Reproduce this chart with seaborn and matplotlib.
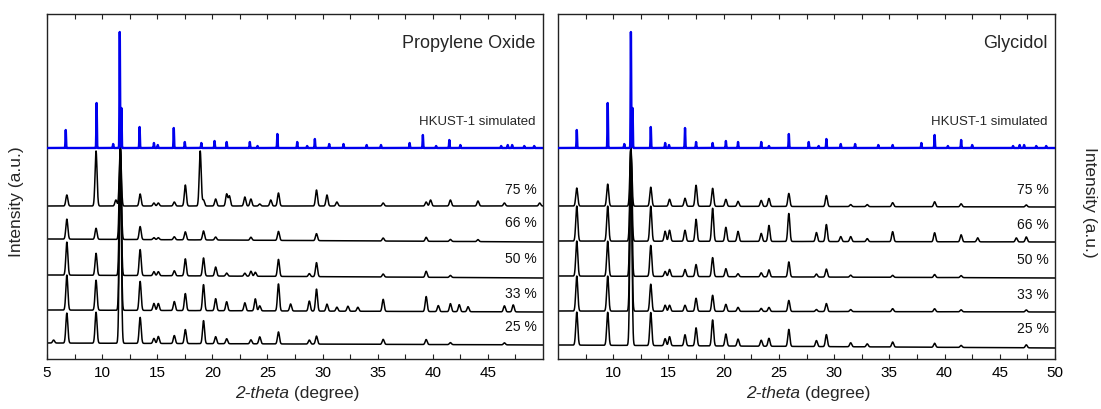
import numpy as np
import matplotlib
matplotlib.use("Agg")
import matplotlib.pyplot as plt
import seaborn as sns

# ---------------- data ----------------
x_range = (5, 50)

# simulated HKUST-1 stick pattern (peak position in deg, height in plot units)
sim_pos = [6.7, 9.5, 11.0, 11.6, 11.75, 13.4, 14.7, 15.05, 16.5, 17.5, 19.0, 20.2,
           21.3, 23.4, 24.1, 25.9, 27.7, 28.6, 29.3, 30.6, 31.9, 34.0, 35.3, 37.9,
           39.1, 40.3, 41.5, 42.5, 46.2, 46.8, 47.2, 48.3, 49.2]
sim_int = [18, 45, 4, 116, 40, 21, 5, 3, 20, 6, 5, 7,
           6, 6, 2, 14, 6, 2, 9, 4, 4, 3, 3, 5,
           13, 2, 8, 3, 2, 3, 3, 2, 2]
sim_base = 211

sample_labels = ["75 %", "66 %", "50 %", "33 %", "25 %"]

# Propylene Oxide panel
po_pos = [5.6, 6.8, 9.45, 11.25, 11.65, 13.45, 14.7, 15.1, 16.55, 17.55, 18.9, 19.2,
          20.3, 21.3, 21.55, 22.95, 23.5, 23.9, 24.3, 25.3, 26.0, 27.1, 28.8, 29.45,
          30.4, 31.3, 32.3, 33.2, 35.5, 39.4, 39.8, 40.5, 41.6, 42.4, 43.2, 44.1,
          46.5, 47.3, 49.7]
po_75 = [0, 11, 55, 6, 57, 12, 3, 3, 4, 21, 55, 6, 7, 12, 10, 9, 7, 0, 2, 6, 13, 0, 0, 16,
         11, 4, 0, 0, 3, 4, 6, 0, 6, 0, 0, 5, 3, 0, 3]
po_66 = [0, 20, 11, 0, 93, 13, 2, 2, 3, 8, 0, 9, 3, 0, 0, 0, 3, 0, 0, 0, 9, 0, 0, 7,
         0, 0, 0, 0, 3, 4, 0, 0, 2, 0, 0, 2, 0, 0, 0]
po_50 = [0, 33, 22, 0, 128, 26, 4, 4, 5, 17, 0, 18, 9, 3, 0, 3, 5, 4, 0, 0, 17, 0, 3, 14,
         0, 0, 0, 0, 3, 6, 0, 0, 2, 0, 0, 0, 0, 0, 0]
po_33 = [0, 35, 30, 0, 162, 29, 7, 7, 9, 17, 0, 26, 12, 9, 0, 8, 0, 12, 5, 0, 27, 7, 10, 22,
         7, 4, 5, 4, 12, 15, 0, 6, 8, 7, 5, 0, 6, 7, 0]
po_25 = [3, 30, 31, 0, 196, 26, 5, 7, 8, 14, 0, 23, 7, 5, 0, 0, 4, 0, 7, 0, 12, 0, 4, 8,
         0, 0, 0, 0, 5, 5, 0, 0, 2, 0, 0, 0, 2, 0, 0]
po_base_start = [153, 120, 84, 49, 16]
po_base_end = [153, 117, 81, 47, 14]

# Glycidol panel
gl_pos = [6.7, 9.5, 11.6, 13.4, 14.7, 15.1, 16.5, 17.5, 19.0, 20.2, 21.3, 23.4, 24.1,
          25.9, 28.4, 29.3, 30.6, 31.5, 33.0, 35.3, 39.1, 41.5, 43.0, 46.5, 47.4]
gl_75 = [18, 22, 58, 19, 0, 7, 8, 21, 18, 7, 5, 6, 8, 13, 0, 11, 0, 2, 2, 4, 5, 3, 0, 0, 2]
gl_66 = [35, 35, 93, 35, 10, 11, 11, 22, 33, 14, 10, 8, 16, 28, 9, 17, 5, 5, 3, 10, 9, 7, 4, 4, 5]
gl_50 = [35, 35, 128, 31, 5, 7, 7, 12, 19, 8, 3, 4, 7, 15, 3, 8, 0, 2, 0, 2, 3, 2, 0, 0, 0]
gl_33 = [35, 35, 163, 27, 6, 6, 6, 13, 16, 7, 4, 3, 4, 11, 2, 8, 0, 2, 0, 3, 3, 2, 0, 0, 2]
gl_25 = [33, 33, 198, 33, 7, 9, 11, 18, 26, 12, 7, 6, 8, 17, 6, 12, 0, 4, 3, 5, 4, 2, 0, 0, 3]
gl_base_start = [153, 118, 83, 48, 14]
gl_base_end = [152, 117, 81, 47, 11]

x_ticks_left = [5, 10, 15, 20, 25, 30, 35, 40, 45]
x_ticks_right = [10, 15, 20, 25, 30, 35, 40, 45, 50]

# ---------------- style ----------------
sns.set_style("ticks")
plt.rcParams["font.family"] = ["Liberation Sans", "DejaVu Sans"]

W, H = 1101, 410
fig = plt.figure(figsize=(W / 100, H / 100), dpi=100)
axL = fig.add_axes([47 / W, 50 / H, 496 / W, 345 / H])
axR = fig.add_axes([558 / W, 50 / H, 497 / W, 345 / H])

grid = np.arange(x_range[0], x_range[1] + 1e-9, 0.01)


def profile(pos, ints, width, b0, b1):
    y = b0 + (b1 - b0) * (grid - x_range[0]) / (x_range[1] - x_range[0])
    for p, h in zip(pos, ints):
        if h:
            y = y + h * np.exp(-0.5 * ((grid - p) / width) ** 2)
    return y


def draw_panel(ax, pos, series, b_start, b_end, title, ticks):
    for ints, b0, b1, lab in zip(series, b_start, b_end, sample_labels):
        y = profile(pos, ints, 0.09, b0, b1)
        sns.lineplot(x=grid, y=y, ax=ax, color="black", lw=1.1,
                     estimator=None, sort=False, zorder=2)
        ax.text(49.45, b0 + 17, lab, ha="right", va="center", fontsize=10,
                color="#111111")
    ys = profile(sim_pos, sim_int, 0.025, sim_base, sim_base)
    sns.lineplot(x=grid, y=ys, ax=ax, color="#0000ee", lw=1.7,
                 estimator=None, sort=False, zorder=3)
    ax.text(49.3, 317, title, ha="right", va="center", fontsize=13)
    ax.text(49.3, 238, "HKUST-1 simulated", ha="right", va="center", fontsize=9.5)
    ax.set_xlim(*x_range)
    ax.set_ylim(0, 345)
    ax.set_yticks([])
    ax.set_xticks(ticks)
    ax.set_xticks(np.arange(7.5, 50, 5), minor=True)
    ax.tick_params(axis="x", which="both", direction="in", top=True, bottom=True,
                   length=3.5, width=0.8, labelsize=11, pad=4, colors="#222222",
                   labelcolor="black")
    for s in ax.spines.values():
        s.set_color("#222222")
        s.set_linewidth(1.0)
    ax.set_xlabel("")
    ax.set_ylabel("")


draw_panel(axL, po_pos, [po_75, po_66, po_50, po_33, po_25],
           po_base_start, po_base_end, "Propylene Oxide", x_ticks_left)
draw_panel(axR, gl_pos, [gl_75, gl_66, gl_50, gl_33, gl_25],
           gl_base_start, gl_base_end, "Glycidol", x_ticks_right)

# x labels: italic "2-theta" + upright "(degree)"
for xj in (289 / W, 800 / W):
    fig.text(xj, 16 / H, "2-theta", ha="right", va="center", fontsize=12.5, style="italic")
    fig.text(xj, 16 / H, " (degree)", ha="left", va="center", fontsize=12.5)

fig.text(17 / W, 208 / H, "Intensity (a.u.)", rotation=90, ha="center", va="center", fontsize=12.5)
fig.text(1090 / W, 208 / H, "Intensity (a.u.)", rotation=270, ha="center", va="center", fontsize=12.5)

fig.savefig("out.png", dpi=100)
